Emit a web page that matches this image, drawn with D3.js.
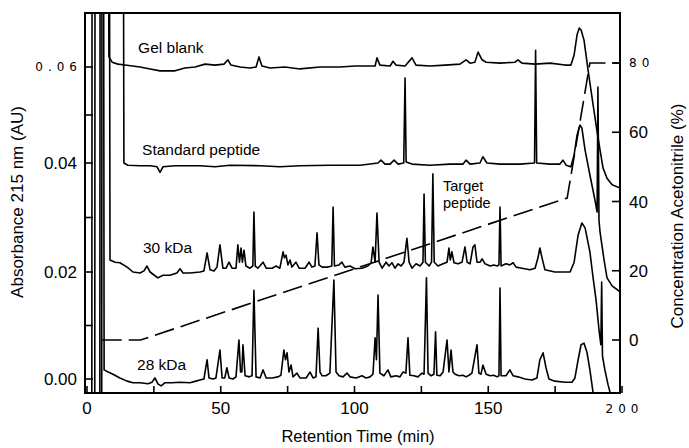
<!DOCTYPE html>
<html><head><meta charset="utf-8">
<script src="https://cdn.jsdelivr.net/npm/d3@7"></script>
<style>
body{margin:0;background:#fff;}
svg{display:block;font-family:"Liberation Sans",Arial,Helvetica,sans-serif;}
</style></head><body>
<svg id="chart" width="689" height="448"></svg>
<script>
// ---------------- DATA ----------------
const timeTicks = [0, 50, 100, 150, 200];
const timeMinorTicks = [25, 75, 125, 175];
const timeTickLabels = ["0", "50", "100", "150", "200"];
const absTicks = [0, 0.02, 0.04, 0.06];
const absMinorTicks = [0.01, 0.03, 0.05];
const absTickLabels = ["0.00", "0.02", "0.04", "0.06"];
const acnTicks = [0, 20, 40, 60, 80];
const acnTickLabels = ["0", "20", "40", "60", "80"];
const lightLabels = ["0.06", "80", "200"];   // printed in a lighter, spaced type
const traceNames = ["Gel blank", "Standard peptide", "30 kDa", "28 kDa"];
const annotation = ["Target", "peptide"];

// chromatograms: [retention time (min), absorbance (AU)]
const gelBlank = [[4.8,-0.005],[4.9,0.09],[8.0,0.09],[8.2,0.0621],[9.4,0.0610],[11.6,0.0606],[14.2,0.0604],[19.8,0.0600],[23.6,0.0596],[27.3,0.0592],[32.9,0.0592],[36.6,0.0598],[40.4,0.0600],[44.1,0.0606],[47.9,0.0604],[51.2,0.0606],[52.7,0.0615],[53.8,0.0604],[57.2,0.0600],[60.9,0.0598],[63.2,0.0600],[64.3,0.0621],[65.4,0.0602],[68.4,0.0598],[74.0,0.0600],[79.6,0.0596],[87.1,0.0600],[94.6,0.0600],[100.2,0.0602],[107.7,0.0602],[108.4,0.0619],[109.5,0.0604],[113.3,0.0602],[114.4,0.0612],[115.5,0.0604],[118.9,0.0602],[121.5,0.0619],[123.0,0.0604],[128.2,0.0602],[133.8,0.0604],[139.4,0.0606],[141.7,0.0615],[143.2,0.0608],[145.0,0.0610],[146.2,0.0631],[147.7,0.0615],[149.2,0.0610],[154.4,0.0608],[160.0,0.0610],[161.1,0.0615],[162.6,0.0608],[167.5,0.0606],[173.1,0.0608],[178.7,0.0604],[180.9,0.0604],[182.1,0.0625],[183.2,0.0667],[184.0,0.0681],[184.7,0.0677],[185.8,0.0656],[187.3,0.0594],[189.2,0.0521],[190.7,0.0465],[191.8,0.0427],[192.9,0.0391],[194.4,0.0372],[196.3,0.0360],[199.3,0.0354]];

const standardPeptide = [[5.5,-0.005],[5.6,0.09],[13.6,0.09],[13.8,0.0400],[15.3,0.0396],[19.8,0.0395],[23.6,0.0395],[26.2,0.0393],[27.3,0.0383],[28.4,0.0393],[32.9,0.0395],[42.2,0.0395],[47.9,0.0393],[53.5,0.0396],[64.7,0.0395],[72.1,0.0393],[79.6,0.0395],[90.8,0.0396],[102.1,0.0396],[108.8,0.0400],[109.9,0.0406],[111.4,0.0398],[113.3,0.0398],[114.8,0.0406],[116.3,0.0398],[118.4,0.0400],[118.9,0.0577],[119.3,0.0402],[121.5,0.0398],[128.2,0.0396],[135.7,0.0398],[140.6,0.0398],[141.7,0.0406],[143.2,0.0398],[146.9,0.0400],[148.0,0.0413],[149.5,0.0400],[154.4,0.0398],[161.9,0.0398],[167.3,0.0400],[167.7,0.0635],[168.1,0.0400],[173.1,0.0398],[176.8,0.0398],[177.9,0.0406],[179.1,0.0396],[180.9,0.0393],[182.1,0.0417],[183.2,0.0458],[184.3,0.0479],[185.0,0.0473],[186.2,0.0427],[188.0,0.0378],[189.9,0.0332],[190.7,0.0310],[191.0,0.0558],[191.4,0.0295],[191.8,0.0273],[193.3,0.0222],[194.4,0.0189],[196.3,0.0174],[199.3,0.0163]];

const kda30 = [[2.9,-0.005],[3.0,0.09],[8.4,0.09],[8.6,0.0222],[10.5,0.0218],[12.3,0.0217],[15.0,0.0209],[17.2,0.0200],[19.8,0.0198],[21.3,0.0202],[22.4,0.0211],[23.6,0.0200],[25.4,0.0193],[26.5,0.0189],[28.4,0.0194],[31.0,0.0194],[33.6,0.0198],[34.8,0.0206],[35.9,0.0198],[38.5,0.0198],[42.2,0.0200],[43.7,0.0202],[44.9,0.0235],[46.0,0.0204],[47.5,0.0202],[48.6,0.0209],[49.7,0.0250],[50.8,0.0207],[52.0,0.0207],[53.1,0.0218],[54.2,0.0207],[55.7,0.0207],[56.4,0.0250],[57.0,0.0218],[57.6,0.0244],[58.1,0.0218],[58.7,0.0240],[59.4,0.0211],[60.9,0.0207],[62.0,0.0211],[62.4,0.0310],[62.9,0.0211],[63.9,0.0207],[65.8,0.0218],[67.0,0.0207],[69.2,0.0207],[70.7,0.0211],[72.1,0.0207],[73.3,0.0237],[73.8,0.0226],[74.4,0.0231],[75.1,0.0213],[75.9,0.0222],[76.6,0.0209],[78.1,0.0218],[79.3,0.0207],[81.5,0.0207],[83.0,0.0218],[84.1,0.0209],[85.2,0.0211],[86.0,0.0272],[86.7,0.0213],[87.9,0.0209],[90.1,0.0209],[91.5,0.0211],[92.0,0.0319],[92.5,0.0211],[94.2,0.0213],[95.3,0.0218],[96.4,0.0209],[98.3,0.0211],[100.2,0.0206],[102.8,0.0207],[105.0,0.0211],[106.2,0.0217],[106.9,0.0246],[107.7,0.0218],[108.4,0.0308],[109.2,0.0218],[110.3,0.0207],[111.8,0.0218],[112.9,0.0211],[114.0,0.0217],[115.1,0.0207],[116.3,0.0215],[117.4,0.0211],[118.5,0.0218],[119.6,0.0262],[120.4,0.0218],[121.5,0.0207],[123.0,0.0215],[124.5,0.0211],[125.6,0.0218],[126.0,0.0343],[126.5,0.0218],[127.9,0.0211],[128.8,0.0218],[129.3,0.0380],[129.8,0.0218],[131.2,0.0211],[133.1,0.0215],[134.6,0.0218],[135.3,0.0244],[135.8,0.0222],[136.4,0.0237],[137.2,0.0217],[138.7,0.0215],[140.2,0.0218],[141.3,0.0246],[142.1,0.0218],[143.2,0.0215],[144.3,0.0246],[145.0,0.0250],[145.8,0.0218],[146.9,0.0218],[147.7,0.0224],[148.8,0.0215],[150.7,0.0211],[152.1,0.0213],[153.3,0.0211],[154.0,0.0213],[154.4,0.0319],[154.8,0.0211],[156.6,0.0215],[158.1,0.0213],[159.3,0.0217],[160.4,0.0209],[162.6,0.0207],[165.6,0.0204],[167.5,0.0207],[168.6,0.0226],[169.3,0.0244],[170.1,0.0226],[171.2,0.0204],[174.9,0.0200],[180.6,0.0200],[182.1,0.0218],[183.6,0.0268],[185.0,0.0290],[186.2,0.0281],[188.0,0.0237],[189.2,0.0189],[190.3,0.0148],[191.4,0.0092],[192.1,0.0064],[192.4,0.0181],[192.7,0.0043],[193.6,0.0017],[194.8,-0.0011],[196.3,-0.0039]];

const kda28 = [[1.8,-0.005],[1.9,0.09],[6.2,0.09],[6.4,0.0017],[7.9,0.0013],[9.7,0.0009],[12.3,0.0002],[15.0,-0.0004],[17.2,-0.0007],[19.8,-0.0007],[22.8,-0.0009],[24.3,-0.0006],[25.4,0.0002],[26.5,-0.0009],[27.7,-0.0013],[29.2,-0.0007],[31.8,-0.0007],[34.8,-0.0006],[38.5,-0.0007],[40.7,-0.0004],[42.2,-0.0002],[43.7,0.0000],[44.9,0.0036],[45.6,0.0002],[47.1,0.0000],[48.2,0.0002],[49.7,0.0054],[50.5,0.0002],[51.5,0.0002],[52.3,0.0021],[53.1,0.0002],[54.6,0.0000],[55.7,0.0004],[56.8,0.0073],[57.4,0.0013],[57.9,0.0013],[58.3,0.0064],[59.1,0.0006],[60.6,0.0004],[61.7,0.0006],[62.4,0.0166],[63.2,0.0004],[64.7,0.0002],[65.8,0.0017],[67.0,0.0002],[69.2,0.0002],[71.4,0.0004],[72.5,0.0007],[73.6,0.0054],[74.2,0.0036],[74.8,0.0049],[75.5,0.0013],[76.3,0.0026],[77.0,0.0004],[78.5,0.0011],[79.6,0.0002],[81.9,0.0002],[83.4,0.0013],[84.5,0.0002],[85.6,0.0004],[86.4,0.0095],[87.1,0.0013],[87.9,0.0006],[89.3,0.0006],[90.8,0.0011],[92.3,0.0185],[93.1,0.0013],[94.2,0.0006],[95.7,0.0004],[97.2,0.0011],[98.3,0.0004],[100.6,0.0002],[102.8,0.0006],[104.3,0.0002],[105.8,0.0004],[106.9,0.0009],[107.7,0.0077],[108.2,0.0036],[108.8,0.0157],[109.5,0.0011],[111.0,0.0006],[112.5,0.0017],[113.6,0.0004],[115.5,0.0006],[117.0,0.0004],[118.1,0.0013],[119.2,0.0011],[120.0,0.0077],[120.7,0.0007],[122.2,0.0006],[123.7,0.0004],[125.2,0.0011],[126.0,0.0009],[126.9,0.0189],[127.5,0.0011],[128.6,0.0006],[129.7,0.0009],[130.3,0.0088],[130.8,0.0007],[132.0,0.0006],[133.1,0.0013],[134.6,0.0073],[135.3,0.0013],[136.1,0.0054],[136.8,0.0013],[137.6,0.0009],[139.1,0.0006],[140.6,0.0007],[141.7,0.0004],[142.8,0.0007],[143.9,0.0011],[145.8,0.0064],[146.5,0.0011],[147.3,0.0009],[148.0,0.0026],[149.2,0.0009],[150.7,0.0006],[152.1,0.0007],[153.3,0.0004],[154.0,0.0006],[154.4,0.0170],[154.8,0.0006],[156.6,0.0006],[158.1,0.0017],[159.3,0.0006],[161.1,0.0004],[163.7,0.0000],[166.4,-0.0002],[168.2,0.0002],[169.3,0.0036],[170.5,0.0049],[171.6,0.0021],[172.7,0.0000],[174.9,-0.0004],[178.7,-0.0006],[181.3,-0.0006],[182.4,0.0002],[183.6,0.0036],[184.7,0.0064],[185.8,0.0067],[186.9,0.0050],[188.0,0.0017],[189.2,-0.0026],[189.9,-0.0049]];

// acetonitrile gradient: [time (min), % acetonitrile]
const gradient = [[5.5,0],[20,0],[179.5,41],[188,80],[200,80]];

// ---------------- LAYOUT ----------------
const svg = d3.select("#chart");
const frame = {left: 85, right: 620, top: 13, bottom: 393};
const x = d3.scaleLinear().domain([0, 200]).range([87, 622]);
const yAbs = d3.scaleLinear().domain([0, 0.02, 0.04, 0.06]).range([379, 272, 163, 67]);
const yAcn = d3.scaleLinear().domain([0, 80]).range([340, 63]);

svg.append("defs").append("clipPath").attr("id", "plotclip")
  .append("rect").attr("x", frame.left).attr("y", frame.top)
  .attr("width", frame.right - frame.left).attr("height", frame.bottom - frame.top);

const plot = svg.append("g").attr("clip-path", "url(#plotclip)");
const line = d3.line().x(d => x(d[0])).y(d => yAbs(d[1]));
[gelBlank, standardPeptide, kda30, kda28].forEach(series => {
  plot.append("path").datum(series).attr("d", line)
    .attr("fill", "none").attr("stroke", "#000").attr("stroke-width", 1.6)
    .attr("stroke-linejoin", "round");
});
const gLine = d3.line().x(d => x(d[0])).y(d => yAcn(d[1]));
plot.append("path").datum(gradient).attr("d", gLine)
  .attr("fill", "none").attr("stroke", "#000").attr("stroke-width", 1.6)
  .attr("stroke-dasharray", "20,7");

// frame
svg.append("rect").attr("x", frame.left).attr("y", frame.top)
  .attr("width", frame.right - frame.left).attr("height", frame.bottom - frame.top)
  .attr("fill", "none").attr("stroke", "#000").attr("stroke-width", 2);

// ticks (drawn inward)
const tk = svg.append("g").attr("stroke", "#000").attr("stroke-width", 1.6);
absTicks.concat(absMinorTicks).forEach(v => {
  tk.append("line").attr("x1", frame.left).attr("x2", frame.left + 8)
    .attr("y1", yAbs(v)).attr("y2", yAbs(v));
});
acnTicks.forEach(v => {
  tk.append("line").attr("x1", frame.right - 8).attr("x2", frame.right)
    .attr("y1", yAcn(v)).attr("y2", yAcn(v));
});
timeTicks.concat(timeMinorTicks).forEach(t => {
  tk.append("line").attr("x1", x(t)).attr("x2", x(t))
    .attr("y1", frame.bottom).attr("y2", frame.bottom - 7);
});

// tick labels
function styleLabel(sel, txt) {
  if (lightLabels.includes(txt)) {
    sel.attr("font-family", "'DejaVu Sans', sans-serif").attr("font-size", 12)
      .attr("letter-spacing", 5).attr("fill", "#000");
  } else {
    sel.attr("font-size", 17).attr("fill", "#000");
  }
}
absTicks.forEach((v, i) => {
  const txt = absTickLabels[i];
  const light = lightLabels.includes(txt);
  const t = svg.append("text").text(txt)
    .attr("x", light ? 82 : 77).attr("y", yAbs(v)).attr("dy", "0.36em")
    .attr("text-anchor", "end");
  styleLabel(t, txt);
});
acnTicks.forEach((v, i) => {
  const txt = acnTickLabels[i];
  const t = svg.append("text").text(txt)
    .attr("x", 629).attr("y", yAcn(v)).attr("dy", "0.36em");
  styleLabel(t, txt);
});
timeTicks.forEach((tv, i) => {
  const txt = timeTickLabels[i];
  const light = lightLabels.includes(txt);
  const t = svg.append("text").text(txt)
    .attr("x", x(tv) + (light ? 2.5 : 0)).attr("y", light ? 413 : 414)
    .attr("text-anchor", "middle");
  styleLabel(t, txt);
});

// axis titles
svg.append("text").text("Retention Time (min)")
  .attr("x", 358).attr("y", 442).attr("text-anchor", "middle").attr("font-size", 16.5);
svg.append("text").text("Absorbance 215 nm (AU)")
  .attr("transform", "translate(23,202) rotate(-90)").attr("text-anchor", "middle").attr("font-size", 17);
svg.append("text").text("Concentration Acetonitrile (%)")
  .attr("transform", "translate(683,216) rotate(-90)").attr("text-anchor", "middle").attr("font-size", 17);

// trace labels
const labelPos = [[19.1, 0.0629], [20.6, 0.0417], [20.9, 0.0235], [18.7, 0.0017]];
traceNames.forEach((name, i) => {
  svg.append("text").text(name)
    .attr("x", x(labelPos[i][0])).attr("y", yAbs(labelPos[i][1]))
    .attr("font-size", 15.5);
});
const ann = svg.append("g").attr("font-size", 14.5);
annotation.forEach((word, i) => {
  ann.append("text").text(word)
    .attr("x", x(133.1)).attr("y", yAbs(i === 0 ? 0.0349 : 0.0318));
});
</script>
</body></html>
